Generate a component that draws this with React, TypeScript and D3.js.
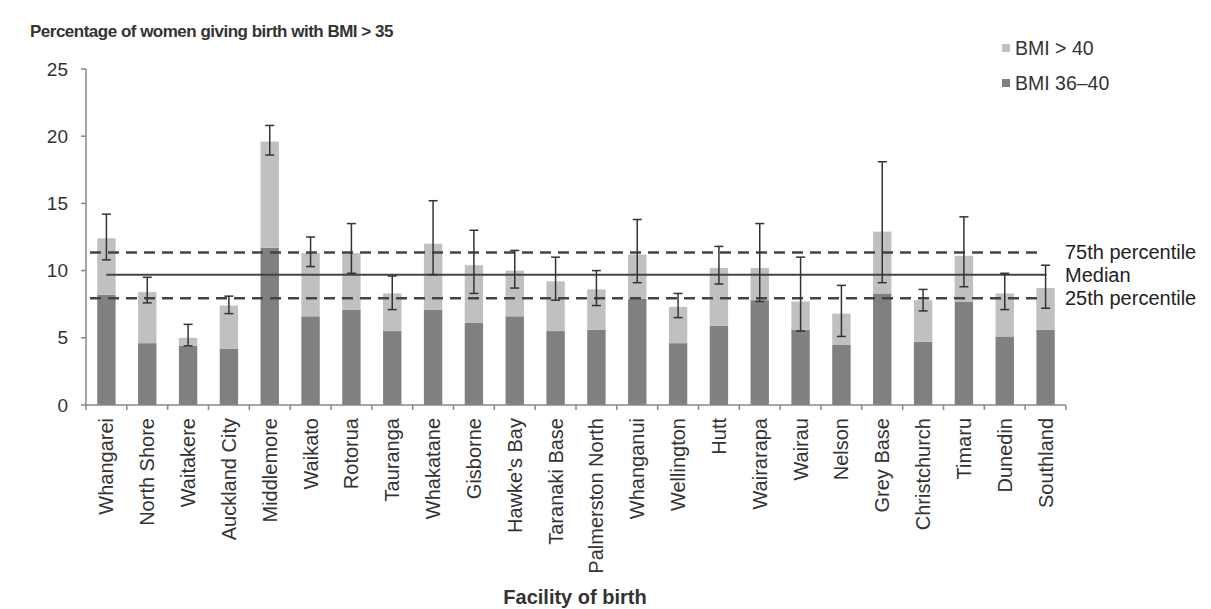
import React from 'react';
import * as d3 from 'd3';

// facilities, left to right
const facilities = [
  'Whangarei', 'North Shore', 'Waitakere', 'Auckland City', 'Middlemore', 'Waikato',
  'Rotorua', 'Tauranga', 'Whakatane', 'Gisborne', "Hawke's Bay", 'Taranaki Base',
  'Palmerston North', 'Whanganui', 'Wellington', 'Hutt', 'Wairarapa', 'Wairau',
  'Nelson', 'Grey Base', 'Christchurch', 'Timaru', 'Dunedin', 'Southland',
];
// BMI 36-40 share (%)
const bmi3640 = [8.2, 4.6, 4.4, 4.2, 11.7, 6.6, 7.1, 5.5, 7.1, 6.1, 6.6, 5.5, 5.6, 7.9, 4.6, 5.9, 7.8, 5.6, 4.5, 8.3, 4.7, 7.7, 5.1, 5.6];
// BMI > 35 total (%)
const bmiTotal = [12.4, 8.4, 5.0, 7.4, 19.6, 11.3, 11.3, 8.3, 12.0, 10.4, 10.0, 9.2, 8.6, 11.2, 7.3, 10.2, 10.2, 7.7, 6.8, 12.9, 7.8, 11.1, 8.3, 8.7];
// 95% CI of total
const ciLow = [10.8, 7.6, 4.4, 6.8, 18.6, 10.3, 9.8, 7.1, 9.7, 8.3, 8.7, 7.8, 7.4, 9.1, 6.5, 9.0, 7.7, 5.5, 5.1, 9.1, 7.0, 8.8, 7.1, 7.2];
const ciHigh = [14.2, 9.5, 6.0, 8.1, 20.8, 12.5, 13.5, 9.6, 15.2, 13.0, 11.5, 11.0, 10.0, 13.8, 8.3, 11.8, 13.5, 11.0, 8.9, 18.1, 8.6, 14.0, 9.8, 10.4];

const yTicks = [0, 5, 10, 15, 20, 25];
const refLines = [
  { label: '75th percentile', value: 11.35, dashed: true },
  { label: 'Median', value: 9.7, dashed: false },
  { label: '25th percentile', value: 7.95, dashed: true },
];
const legendItems = [
  { label: 'BMI > 40', color: '#c0c0c0' },
  { label: 'BMI 36–40', color: '#808080' },
];

const W = 1211;
const H = 609;
const font = '"Liberation Sans", Arial, sans-serif';

export default function App() {
  const left = 86;
  const right = 1066;
  const top = 69;
  const bottom = 405;

  const x = d3.scaleBand<string>().domain(facilities).range([left, right]).paddingInner(0).paddingOuter(0);
  const y = d3.scaleLinear().domain([0, 25]).range([bottom, top]);
  const bw = x.bandwidth() * 0.45;
  const cx = (f: string) => (x(f) as number) + x.bandwidth() / 2;

  const firstC = cx(facilities[0]);
  const lastC = cx(facilities[facilities.length - 1]);

  return (
    <div style={{ position: 'absolute', left: 0, top: 0 }}>
      <svg width={W} height={H} style={{ display: 'block', background: '#fff' }} fontFamily={font}>
        <text x={30} y={37} fontSize={17} fontWeight="bold" fill="#333" letterSpacing={-0.5}>
          Percentage of women giving birth with BMI &gt; 35
        </text>

        {/* bars */}
        {facilities.map((f, i) => (
          <g key={f}>
            <rect x={cx(f) - bw / 2} y={y(bmi3640[i])} width={bw} height={y(0) - y(bmi3640[i])} fill="#808080" />
            <rect x={cx(f) - bw / 2} y={y(bmiTotal[i])} width={bw} height={y(bmi3640[i]) - y(bmiTotal[i])} fill="#c0c0c0" />
          </g>
        ))}

        {/* reference lines */}
        {refLines.map((r) => (
          <g key={r.label}>
            <line
              x1={r.dashed ? left + 4 : firstC}
              x2={r.dashed ? lastC - 3 : lastC + 1}
              y1={y(r.value)}
              y2={y(r.value)}
              stroke="#444"
              strokeWidth={r.dashed ? 2.5 : 2}
              strokeDasharray={r.dashed ? '11,7' : undefined}
            />
            <text x={right - 1} y={y(r.value)} dy="0.35em" fontSize={20} fill="#222">
              {r.label}
            </text>
          </g>
        ))}

        {/* error bars */}
        {facilities.map((f, i) => (
          <g key={f + '-err'} stroke="#333" strokeWidth={1.5}>
            <line x1={cx(f)} x2={cx(f)} y1={y(ciLow[i])} y2={y(ciHigh[i])} />
            <line x1={cx(f) - 4.5} x2={cx(f) + 4.5} y1={y(ciLow[i])} y2={y(ciLow[i])} />
            <line x1={cx(f) - 4.5} x2={cx(f) + 4.5} y1={y(ciHigh[i])} y2={y(ciHigh[i])} />
          </g>
        ))}

        {/* y axis */}
        <line x1={left} x2={left} y1={top} y2={bottom} stroke="#888" strokeWidth={1.5} />
        {yTicks.map((t) => (
          <g key={t}>
            <line x1={left - 5} x2={left} y1={y(t)} y2={y(t)} stroke="#888" strokeWidth={1.5} />
            <text x={left - 18} y={y(t)} dy="0.35em" textAnchor="end" fontSize={19} fill="#333">
              {t}
            </text>
          </g>
        ))}

        {/* x axis */}
        <line x1={left} x2={right} y1={bottom} y2={bottom} stroke="#888" strokeWidth={1.5} />
        {facilities.concat(['']).map((f, i) => {
          const xx = left + i * x.bandwidth();
          return <line key={'t' + i} x1={xx} x2={xx} y1={bottom} y2={bottom + 5} stroke="#888" strokeWidth={1.5} />;
        })}
        {facilities.map((f) => (
          <text
            key={f + '-lbl'}
            transform={`translate(${cx(f)},${bottom + 13}) rotate(-90)`}
            dy="0.35em"
            textAnchor="end"
            fontSize={20}
            fill="#333"
          >
            {f}
          </text>
        ))}
        <text x={575} y={604} textAnchor="middle" fontSize={20} fontWeight="bold" fill="#333">
          Facility of birth
        </text>

        {/* legend */}
        {legendItems.map((l, i) => (
          <g key={l.label} transform={`translate(1002,${48 + i * 35})`}>
            <rect x={0} y={-4} width={8} height={8} fill={l.color} />
            <text x={13} y={0} dy="0.35em" fontSize={19.5} fill="#333">
              {l.label}
            </text>
          </g>
        ))}
      </svg>
    </div>
  );
}
